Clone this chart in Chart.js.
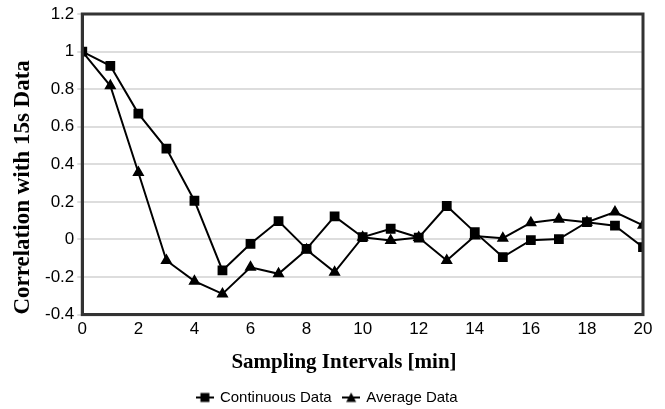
<!DOCTYPE html>
<html>
<head>
<meta charset="utf-8">
<script src="https://cdn.jsdelivr.net/npm/chart.js@4"></script>
<style>
  html, body { margin: 0; padding: 0; background: #fff; }
  #wrap { width: 665px; height: 409px; }
</style>
</head>
<body>
<div id="wrap"><canvas id="chart" width="665" height="409"></canvas></div>
<script>
var intervals = [0, 1, 2, 3, 4, 5, 6, 7, 8, 9, 10, 11, 12, 13, 14, 15, 16, 17, 18, 19, 20];
var continuousData = [1, 0.924, 0.67, 0.484, 0.206, -0.165, -0.023, 0.098, -0.05, 0.123, 0.012,
    0.057, 0.01, 0.178, 0.039, -0.094, -0.004, 0.002, 0.092, 0.073, -0.041];
var averageData = [1, 0.818, 0.356, -0.112, -0.222, -0.29, -0.148, -0.183, -0.055, -0.174, 0.012,
    -0.005, 0.01, -0.112, 0.018, 0.007, 0.089, 0.107, 0.092, 0.146, 0.075];
var seriesNames = ['Continuous Data', 'Average Data'];
var xTitle = 'Sampling Intervals [min]';
var yTitle = 'Correlation with 15s Data';

var tickFont = { family: 'Liberation Sans, Arial', size: 17 };

function toPoints(values) {
    return values.map(function(v, i) { return { x: intervals[i], y: v }; });
}

// small legend icon: line with marker in the middle
function legendIcon(style) {
    var c = document.createElement('canvas');
    c.width = 18; c.height = 12;
    var g = c.getContext('2d');
    g.strokeStyle = '#000';
    g.fillStyle = '#000';
    g.lineWidth = 2;
    g.beginPath(); g.moveTo(0, 6); g.lineTo(18, 6); g.stroke();
    if (style === 'rect') {
        g.fillRect(4.5, 1.5, 9, 9);
    } else {
        g.beginPath(); g.moveTo(9, 1); g.lineTo(14, 10.5); g.lineTo(4, 10.5); g.closePath(); g.fill();
    }
    return c;
}

// box around the plot + x title centred over plot incl. the y labels (like excel does)
var frameBox = {
    id: 'frameBox',
    afterDatasetsDraw: function(chart) {
        var a = chart.chartArea, ctx = chart.ctx;
        ctx.save();
        ctx.strokeStyle = '#333';
        ctx.lineWidth = 3;
        ctx.strokeRect(a.left, a.top, a.right - a.left, a.bottom - a.top);
        ctx.restore();
    },
    afterDraw: function(chart) {
        var a = chart.chartArea, ctx = chart.ctx;
        ctx.save();
        ctx.font = tickFont.size + 'px ' + tickFont.family;
        var labelW = 0;
        chart.scales.y.ticks.forEach(function(t) {
            labelW = Math.max(labelW, ctx.measureText(String(Math.round(t.value * 10) / 10)).width);
        });
        var cx = (a.left - 8 - labelW + a.right) / 2;
        ctx.font = 'bold 21px "Liberation Serif", "Times New Roman", serif';
        ctx.fillStyle = '#000';
        ctx.textAlign = 'center';
        ctx.textBaseline = 'middle';
        ctx.fillText(xTitle, cx, a.bottom + 48);
        ctx.restore();
    }
};

var ctx = document.getElementById('chart');
var chart = new Chart(ctx, {
    type: 'line',
    data: {
        datasets: [{
            label: seriesNames[0],
            data: toPoints(continuousData),
            borderColor: '#000',
            backgroundColor: '#000',
            borderWidth: 2,
            pointStyle: 'rect',
            pointRadius: 5.5,
            pointHoverRadius: 5.5,
            tension: 0
        }, {
            label: seriesNames[1],
            data: toPoints(averageData),
            borderColor: '#000',
            backgroundColor: '#000',
            borderWidth: 2,
            pointStyle: 'triangle',
            pointRadius: 5,
            pointHoverRadius: 5,
            tension: 0
        }]
    },
    options: {
        responsive: false,
        animation: false,
        layout: { padding: { left: 12, right: 22, top: 14, bottom: -6 } },
        plugins: {
            tooltip: { enabled: false },
            legend: {
                position: 'bottom',
                labels: {
                    color: '#000',
                    font: { family: 'Liberation Sans, Arial', size: 15 },
                    usePointStyle: true,
                    boxWidth: 18,
                    padding: 12,
                    generateLabels: function(chart) {
                        return chart.data.datasets.map(function(ds, i) {
                            return {
                                text: ds.label,
                                pointStyle: legendIcon(ds.pointStyle),
                                fillStyle: '#000',
                                strokeStyle: '#000',
                                lineWidth: 0,
                                fontColor: '#000',
                                datasetIndex: i
                            };
                        });
                    }
                }
            }
        },
        scales: {
            x: {
                type: 'linear',
                min: 0,
                max: 20,
                ticks: {
                    stepSize: 2,
                    color: '#000',
                    font: tickFont,
                    padding: 0
                },
                grid: { display: false, drawTicks: true, tickLength: 5, color: '#999' },
                border: { display: true, color: '#333', width: 3 },
                afterFit: function(scale) { scale.height += 38; }
            },
            y: {
                min: -0.4,
                max: 1.2,
                ticks: {
                    stepSize: 0.2,
                    color: '#000',
                    font: tickFont,
                    padding: 3,
                    callback: function(v) { return String(Math.round(v * 10) / 10); }
                },
                grid: { color: '#dddddd', lineWidth: 2, tickLength: 5, drawTicks: true },
                border: { display: true, color: '#333', width: 3 },
                title: {
                    display: true,
                    text: yTitle,
                    color: '#000',
                    align: 'start',
                    font: { family: 'Liberation Serif, Times New Roman', size: 23, weight: 'bold', lineHeight: 1 },
                    padding: { top: 0, bottom: 7 }
                }
            }
        }
    },
    plugins: [frameBox]
});
</script>
</body>
</html>
